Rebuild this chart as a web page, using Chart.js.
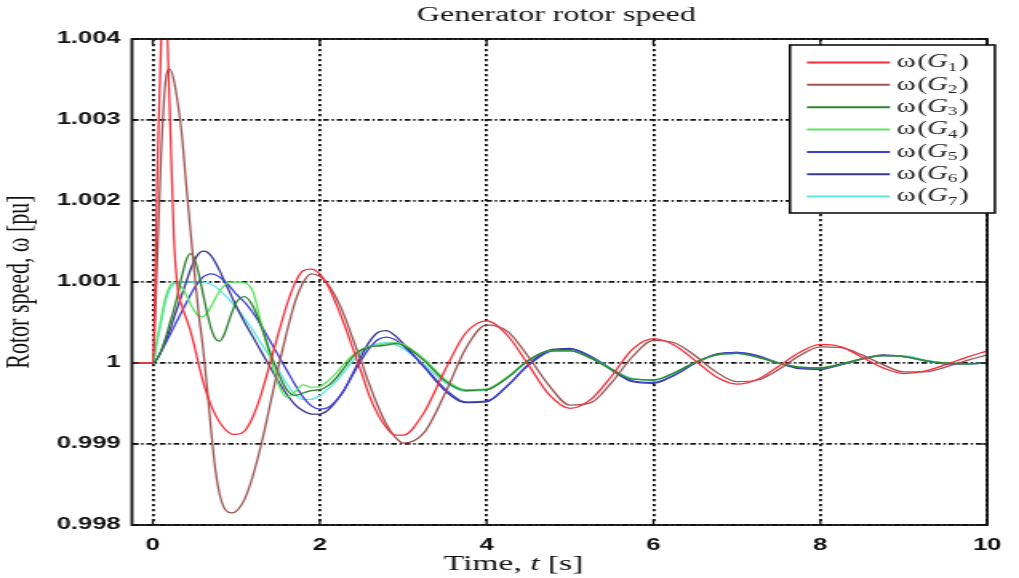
<!DOCTYPE html>
<html>
<head>
<meta charset="utf-8">
<script src="https://cdn.jsdelivr.net/npm/chart.js@4/dist/chart.umd.min.js"></script>
<style>
  html, body { margin: 0; padding: 0; background: #ffffff; overflow: hidden; }
  #wrap { width: 1019px; height: 578px; overflow: hidden; }
  #c { display: block; transform: scaleX(1.59969); transform-origin: 0 0; }
</style>
</head>
<body>
<div id="wrap"><canvas id="c" width="637" height="578"></canvas></div>
<script>
const chartTitle = 'Generator rotor speed';
const xTitleParts = ['Time, ', 't', ' [s]'];
const yTitle = 'Rotor speed, \u03c9 [pu]';
const seriesLabels = ['\u03c9(G\u2081)', '\u03c9(G\u2082)', '\u03c9(G\u2083)', '\u03c9(G\u2084)', '\u03c9(G\u2085)', '\u03c9(G\u2086)', '\u03c9(G\u2087)'];
const seriesColors = ['#f2303c', '#9c5454', '#2f822f', '#5ee35e', '#3d3dd6', '#38388e', '#5ee6e2'];
const xTickVals = [0, 2, 4, 6, 8, 10];
const xTickLabels = ['0', '2', '4', '6', '8', '10'];
const yTickVals = [0.998, 0.999, 1.000, 1.001, 1.002, 1.003, 1.004];
const yTickLabels = ['0.998', '0.999', '1', '1.001', '1.002', '1.003', '1.004'];

const t = [-0.25, 0, 0.05, 0.1, 0.15, 0.2, 0.25, 0.3, 0.35, 0.4, 0.45, 0.5, 0.55, 0.6, 0.65, 0.7, 0.75, 0.8, 0.85, 0.9, 0.95, 1.0,
  1.1, 1.2, 1.3, 1.4, 1.5, 1.6, 1.7, 1.8, 1.9, 2.0, 2.1, 2.2, 2.3, 2.4, 2.5, 2.6, 2.7, 2.8, 2.9, 3.0,
  3.25, 3.5, 3.75, 4.0, 4.25, 4.5, 4.75, 5.0, 5.25, 5.5, 5.75, 6.0, 6.25, 6.5, 6.75, 7.0, 7.25, 7.5, 7.75, 8.0,
  8.25, 8.5, 8.75, 9.0, 9.25, 9.5, 9.75, 10.0];

const g1 = [1.0, 1.0, 1.0022, 1.0040, 1.0045, 1.0032, 1.0016, 1.0009, 1.0007, 1.00055, 1.0004, 1.0002, 0.99998, 0.99978, 0.99961, 0.99947, 0.99936, 0.99927, 0.9992, 0.99915, 0.99912, 0.99912,
  0.99916, 0.99934, 0.99962, 0.99998, 1.00035, 1.0007, 1.00098, 1.00114, 1.00116, 1.0011, 1.00095, 1.00072, 1.00046, 1.00017, 0.99988, 0.99958, 0.99936, 0.9992, 0.99911, 0.99911,
  0.99939, 0.99991, 1.00037, 1.00052, 1.00034, 0.99998, 0.99961, 0.99944, 0.99955, 0.99984, 1.00017, 1.0003, 1.00022, 1.00003, 0.99983, 0.99974, 0.9998, 0.99996, 1.00013, 1.00023,
  1.0002, 1.00007, 0.99994, 0.99987, 0.9999, 0.99998, 1.00007, 1.00015];

const g2 = [1.0, 1.0, 1.0012, 1.0026, 1.00345, 1.00363, 1.0035, 1.0032, 1.0028, 1.0022, 1.00165, 1.0011, 1.0006, 1.0002, 0.9997, 0.99915, 0.99868, 0.99838, 0.99822, 0.99816, 0.99815, 0.99817,
  0.99832, 0.99861, 0.999, 0.99946, 0.99993, 1.00036, 1.00074, 1.00099, 1.0011, 1.00107, 1.00097, 1.0008, 1.00057, 1.00029, 1.00001, 0.99972, 0.99946, 0.99924, 0.99909, 0.99901,
  0.99914, 0.99962, 1.00018, 1.00047, 1.00039, 1.00008, 0.99972, 0.99948, 0.99951, 0.99976, 1.00008, 1.00028, 1.00025, 1.00009, 0.99989, 0.99977, 0.99979, 0.99992, 1.00009, 1.0002,
  1.00019, 1.0001, 0.99998, 0.99989, 0.99989, 0.99995, 1.00003, 1.0001];

const g3 = [1.0, 1.0, 1.00005, 1.00015, 1.0003, 1.00048, 1.00065, 1.00085, 1.00108, 1.00127, 1.00135, 1.00128, 1.0011, 1.00086, 1.00062, 1.00042, 1.0003, 1.00027, 1.00034, 1.00048, 1.00063, 1.00075,
  1.00082, 1.0007, 1.00045, 1.00015, 0.99988, 0.99968, 0.9996, 0.99963, 0.99966, 0.99967, 0.99972, 0.99982, 0.99995, 1.00008, 1.00016, 1.0002, 1.00021, 1.00022, 1.00024, 1.00022,
  1.00003, 0.99978, 0.99966, 0.99967, 0.99982, 1.00003, 1.00015, 1.00015, 1.00006, 0.99992, 0.9998, 0.99979, 0.99988, 1.00001, 1.0001, 1.00012, 1.00007, 1.0, 0.99995, 0.99994,
  0.99999, 1.00005, 1.00009, 1.00008, 1.00003, 1.0, 0.99999, 1.0];

const g4 = [1.0, 1.0, 1.00028, 1.00055, 1.0008, 1.00094, 1.00099, 1.00098, 1.00093, 1.00084, 1.00073, 1.00064, 1.00058, 1.00057, 1.00062, 1.0007, 1.0008, 1.00089, 1.00095, 1.00099, 1.001, 1.001,
  1.00099, 1.00088, 1.00048, 1.0001, 0.99975, 0.99958, 0.99964, 0.99973, 0.9997, 0.99971, 0.99978, 0.99988, 1.0, 1.0001, 1.00017, 1.0002, 1.00022, 1.00024, 1.00025, 1.00023,
  1.00005, 0.9998, 0.99967, 0.99968, 0.99983, 1.00003, 1.00015, 1.00015, 1.00006, 0.99992, 0.9998, 0.99979, 0.99988, 1.00001, 1.0001, 1.00012, 1.00007, 1.0, 0.99995, 0.99994,
  0.99999, 1.00005, 1.00009, 1.00008, 1.00003, 1.0, 0.99999, 1.0];

const g5 = [1.0, 1.0, 1.00005, 1.00014, 1.00024, 1.00034, 1.00044, 1.00054, 1.00064, 1.00074, 1.00084, 1.00093, 1.001, 1.00106, 1.00109, 1.0011, 1.00109, 1.00106, 1.00102, 1.00097, 1.00091, 1.00085,
  1.00075, 1.00062, 1.00046, 1.00028, 1.0001, 0.99992, 0.99974, 0.99958, 0.99947, 0.99943, 0.99945, 0.99954, 0.99968, 0.99986, 1.00004, 1.00019, 1.00029, 1.00032, 1.00029, 1.00021,
  0.99996, 0.99968, 0.99952, 0.99953, 0.99972, 0.99997, 1.00014, 1.00017, 1.00008, 0.99992, 0.99978, 0.99976, 0.99985, 1.0, 1.0001, 1.00013, 1.00009, 1.0, 0.99994, 0.99993,
  0.99998, 1.00005, 1.00009, 1.00008, 1.00003, 0.99999, 0.99999, 1.0];

const g6 = [1.0, 1.0, 1.00005, 1.00015, 1.00027, 1.0004, 1.00055, 1.0007, 1.00085, 1.001, 1.00115, 1.00127, 1.00135, 1.00138, 1.00137, 1.00132, 1.00124, 1.00114, 1.00103, 1.00092, 1.00081, 1.0007,
  1.0005, 1.00032, 1.00014, 0.99996, 0.99978, 0.99962, 0.99949, 0.99941, 0.99937, 0.99937, 0.99942, 0.99953, 0.99968, 0.99988, 1.00009, 1.00027, 1.00038, 1.0004, 1.00034, 1.00024,
  0.99995, 0.99966, 0.99951, 0.99952, 0.99972, 0.99998, 1.00016, 1.00018, 1.00008, 0.99991, 0.99977, 0.99975, 0.99985, 1.0, 1.00011, 1.00013, 1.00008, 1.0, 0.99993, 0.99992,
  0.99998, 1.00005, 1.0001, 1.00008, 1.00003, 0.99999, 0.99999, 1.0];

const g7 = [1.0, 1.0, 1.00025, 1.0005, 1.00075, 1.0009, 1.00097, 1.001, 1.001, 1.001, 1.001, 1.001, 1.001, 1.001, 1.00099, 1.00097, 1.00094, 1.0009, 1.00085, 1.0008, 1.00074, 1.00068,
  1.00055, 1.0004, 1.00024, 1.00008, 0.99992, 0.99975, 0.99962, 0.99955, 0.99955, 0.9996, 0.99968, 0.99978, 0.9999, 1.00003, 1.00013, 1.0002, 1.00024, 1.00025, 1.00023, 1.00018,
  0.99998, 0.99976, 0.99965, 0.99967, 0.99982, 1.00002, 1.00014, 1.00015, 1.00007, 0.99993, 0.99981, 0.99979, 0.99987, 1.0, 1.0001, 1.00012, 1.00008, 1.0, 0.99995, 0.99994,
  0.99998, 1.00005, 1.00009, 1.00009, 1.00004, 1.0, 0.99999, 1.0];

const seriesValues = [g1, g2, g3, g4, g5, g6, g7];

Chart.defaults.font.family = '"Liberation Sans", Arial, sans-serif';
Chart.defaults.color = '#111';

function strokeLine(ctx, x1, y1, x2, y2) {
  ctx.beginPath(); ctx.moveTo(x1, y1); ctx.lineTo(x2, y2); ctx.stroke();
}

function drawLegendLabel(ctx, text, x, y) {
  const subs = '\u2080\u2081\u2082\u2083\u2084\u2085\u2086\u2087\u2088\u2089';
  let cx = x;
  for (const ch of text) {
    const si = subs.indexOf(ch);
    if (si >= 0) {
      ctx.font = '12px "Liberation Serif", serif';
      ctx.fillText(String(si), cx, y + 5);
      cx += ctx.measureText(String(si)).width + 1;
    } else if (ch === 'G') {
      ctx.font = 'italic 18px "Liberation Serif", serif';
      ctx.fillText(ch, cx, y);
      cx += ctx.measureText(ch).width;
    } else {
      ctx.font = '18px "Liberation Serif", serif';
      ctx.fillText(ch, cx, y);
      cx += ctx.measureText(ch).width + (ch === '\u03c9' ? 1 : 0);
    }
  }
}

const decor = {
  id: 'decor',
  afterDraw(chart) {
    const { ctx, chartArea: a, scales } = chart;
    const xs = scales.x, ys = scales.y;
    ctx.save();
    ctx.setLineDash([]);
    ctx.strokeStyle = '#111';
    ctx.lineWidth = 1.3;
    xs.ticks.forEach(tk => {
      const px = xs.getPixelForValue(tk.value);
      strokeLine(ctx, px, a.bottom, px, a.bottom - 6);
      strokeLine(ctx, px, a.top, px, a.top + 6);
    });
    ys.ticks.forEach(tk => {
      const py = ys.getPixelForValue(tk.value);
      strokeLine(ctx, a.left, py, a.left + 4, py);
      strokeLine(ctx, a.right, py, a.right - 4, py);
    });
    ctx.lineWidth = 1.8;
    ctx.strokeRect(a.left, a.top, a.right - a.left, a.bottom - a.top);

    ctx.fillStyle = '#111';
    ctx.font = '20px "Liberation Serif", serif';
    ctx.textAlign = 'center';
    ctx.textBaseline = 'middle';
    ctx.fillText(chartTitle, (a.left + a.right) / 2 - 2, 16);

    // x axis title (drawn slightly left of centre as in the source figure)
    const fonts = ['21px "Liberation Serif", serif', 'italic 21px "Liberation Serif", serif', '21px "Liberation Serif", serif'];
    let total = 0;
    xTitleParts.forEach((p, i) => { ctx.font = fonts[i]; total += ctx.measureText(p).width; });
    let cx = 321 - total / 2;
    ctx.textAlign = 'left';
    xTitleParts.forEach((p, i) => { ctx.font = fonts[i]; ctx.fillText(p, cx, 564); cx += ctx.measureText(p).width; });

    // legend box
    const lx = 493.8, ly = 45, lw = 128.1, lh = 168;
    ctx.fillStyle = '#ffffff';
    ctx.fillRect(lx, ly, lw, lh);
    ctx.strokeStyle = '#111';
    ctx.lineWidth = 1.6;
    ctx.strokeRect(lx, ly, lw, lh);
    chart.data.datasets.forEach((ds, i) => {
      const ry = 62.5 + i * 22.35;
      ctx.strokeStyle = ds.borderColor;
      ctx.lineWidth = 2;
      strokeLine(ctx, 504.4, ry, 556.3, ry);
      ctx.fillStyle = '#222';
      drawLegendLabel(ctx, ds.label, 560.6, ry);
    });
    ctx.restore();
  }
};

const datasets = seriesValues.map((vals, i) => ({
  label: seriesLabels[i],
  data: t.map((tv, k) => ({ x: tv, y: vals[k] })),
  borderColor: seriesColors[i],
  backgroundColor: seriesColors[i],
  borderWidth: 1.3,
  pointRadius: 0,
  fill: false,
  cubicInterpolationMode: 'monotone'
}));

new Chart(document.getElementById('c'), {
  type: 'line',
  data: { datasets },
  plugins: [decor],
  options: {
    responsive: false,
    animation: false,
    devicePixelRatio: 1,
    layout: { padding: { top: 39, right: 10, bottom: 0, left: 0 } },
    plugins: { legend: { display: false }, title: { display: false }, tooltip: { enabled: false } },
    scales: {
      x: {
        type: 'linear',
        min: -0.25,
        max: 10,
        afterBuildTicks: s => { s.ticks = xTickVals.map(v => ({ value: v })); },
        afterFit: s => { s.height = 53; },
        ticks: {
          autoSkip: false, maxRotation: 0, padding: 11,
          font: { size: 16, weight: 'bold' }, color: '#111',
          callback: (v, i) => xTickLabels[i]
        },
        grid: { color: '#111', lineWidth: 1.8, drawTicks: false },
        border: { display: false, dash: [2.2, 2.8] },
        title: { display: false }
      },
      y: {
        type: 'linear',
        min: 0.998,
        max: 1.004,
        afterBuildTicks: s => { s.ticks = yTickVals.map(v => ({ value: v })); },
        afterFit: s => { s.width = 82.5; },
        ticks: {
          padding: 7,
          font: { size: 16, weight: 'bold' }, color: '#111',
          callback: (v, i) => yTickLabels[i]
        },
        grid: { color: '#111', lineWidth: 1.7, drawTicks: false },
        border: { display: false, dash: [3.5, 1.8, 1.4, 1.8] },
        title: {
          display: true, text: yTitle, color: '#111',
          font: { family: '"Liberation Serif", serif', size: 22, lineHeight: 1.1 },
          padding: { top: 0, bottom: 0 }
        }
      }
    }
  }
});
</script>
</body>
</html>
